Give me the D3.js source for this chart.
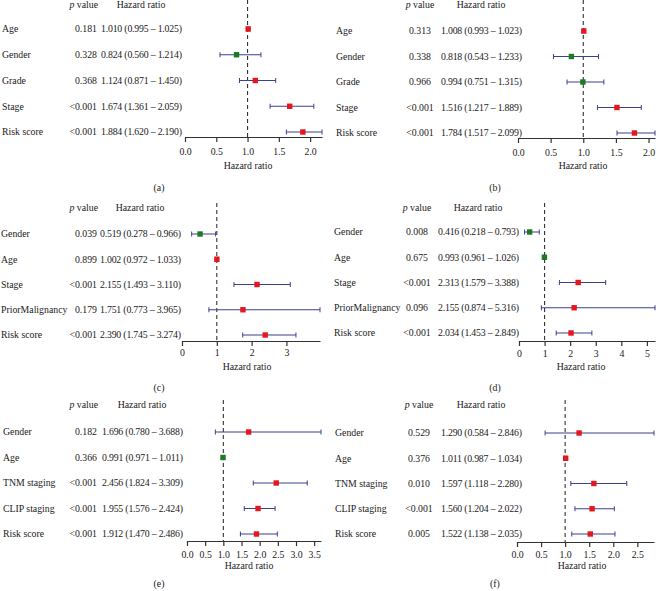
<!DOCTYPE html>
<html>
<head>
<meta charset="utf-8">
<script src="https://cdn.jsdelivr.net/npm/d3@7"></script>
<style>
  body { margin: 0; background: #fff; }
  svg text { font-family: "Liberation Serif", "DejaVu Serif", serif; font-size: 9.8px; fill: #1a1a1a; }
</style>
</head>
<body>
<svg width="656" height="591"></svg>
<script>
// Data for each panel
const labelsAB = ["Age", "Gender", "Grade", "Stage", "Risk score"];
const labelsCD = ["Gender", "Age", "Stage", "PriorMalignancy", "Risk score"];
const labelsEF = ["Gender", "Age", "TNM staging", "CLIP staging", "Risk score"];

const pA = ["0.181", "0.328", "0.368", "<0.001", "<0.001"];
const hrA = [1.010, 0.824, 1.124, 1.674, 1.884];
const loA = [0.995, 0.560, 0.871, 1.361, 1.620];
const hiA = [1.025, 1.214, 1.450, 2.059, 2.190];

const pB = ["0.313", "0.338", "0.966", "<0.001", "<0.001"];
const hrB = [1.008, 0.818, 0.994, 1.516, 1.784];
const loB = [0.993, 0.543, 0.751, 1.217, 1.517];
const hiB = [1.023, 1.233, 1.315, 1.889, 2.099];

const pC = ["0.039", "0.899", "<0.001", "0.179", "<0.001"];
const hrC = [0.519, 1.002, 2.155, 1.751, 2.390];
const loC = [0.278, 0.972, 1.493, 0.773, 1.745];
const hiC = [0.966, 1.033, 3.110, 3.965, 3.274];

const pD = ["0.008", "0.675", "<0.001", "0.096", "<0.001"];
const hrD = [0.416, 0.993, 2.313, 2.155, 2.034];
const loD = [0.218, 0.961, 1.579, 0.874, 1.453];
const hiD = [0.793, 1.026, 3.388, 5.316, 2.849];

const pE = ["0.182", "0.366", "<0.001", "<0.001", "<0.001"];
const hrE = [1.696, 0.991, 2.456, 1.955, 1.912];
const loE = [0.780, 0.971, 1.824, 1.576, 1.470];
const hiE = [3.688, 1.011, 3.309, 2.424, 2.486];

const pF = ["0.529", "0.376", "0.010", "<0.001", "0.005"];
const hrF = [1.290, 1.011, 1.597, 1.560, 1.522];
const loF = [0.584, 0.987, 1.118, 1.204, 1.138];
const hiF = [2.846, 1.034, 2.280, 2.022, 2.035];

const ticksA = [0, 0.5, 1, 1.5, 2];
const ticksC = [0, 1, 2, 3];
const ticksD = [0, 1, 2, 3, 4, 5];
const ticksE = [0, 0.5, 1, 1.5, 2, 2.5, 3, 3.5];
const ticksF = [0, 0.5, 1, 1.5, 2, 2.5];

const panelNames = ["(a)", "(b)", "(c)", "(d)", "(e)", "(f)"];

// Layout of each panel (pixels, relative to the panel origin)
const panels = [
  {ox: 0,   oy: 0,   labels: labelsAB, p: pA, hr: hrA, lo: loA, hi: hiA, ticks: ticksA, fmt: ".1f",
   labX: 2, pX: 97, pAnchor: "end", hrX: 101, head: 5, rows: [29, 132], axisY: 137, x0: 185, x1: 322,
   tickY: 15, titleY: 29, nameY: 51, titleX: 248, nameX: 159},
  {ox: 328, oy: 0,   labels: labelsAB, p: pB, hr: hrB, lo: loB, hi: hiB, ticks: ticksA, fmt: ".1f",
   labX: 8, pX: 92, pAnchor: "middle", hrX: 113, head: 5, rows: [31, 133], axisY: 138, x0: 190, x1: 327,
   tickY: 15, titleY: 28, nameY: 50, titleX: 255, nameX: 167},
  {ox: 0,   oy: 195, labels: labelsCD, p: pC, hr: hrC, lo: loC, hi: hiC, ticks: ticksC, fmt: "d",
   labX: 1, pX: 97, pAnchor: "end", hrX: 100, head: 13, rows: [39, 140], axisY: 146, x0: 182, x1: 320,
   tickY: 12, titleY: 26, nameY: 47, titleX: 247, nameX: 159},
  {ox: 328, oy: 195, labels: labelsCD, p: pD, hr: hrD, lo: loD, hi: hiD, ticks: ticksD, fmt: "d",
   labX: 6, pX: 89, pAnchor: "middle", hrX: 110, head: 13, rows: [37, 138], axisY: 146, x0: 191, x1: 327,
   tickY: 13, titleY: 26, nameY: 47, titleX: 253, nameX: 167},
  {ox: 0,   oy: 390, labels: labelsEF, p: pE, hr: hrE, lo: loE, hi: hiE, ticks: ticksE, fmt: ".1f",
   labX: 3, pX: 97, pAnchor: "end", hrX: 102, head: 15, rows: [42, 144], axisY: 151, x0: 187, x1: 321,
   tickY: 14, titleY: 25, nameY: 43, titleX: 249, nameX: 159},
  {ox: 328, oy: 390, labels: labelsEF, p: pF, hr: hrF, lo: loF, hi: hiF, ticks: ticksF, fmt: ".1f",
   labX: 7, pX: 91, pAnchor: "middle", hrX: 113, head: 15, rows: [43, 144], axisY: 152, x0: 189, x1: 326,
   tickY: 13, titleY: 24, nameY: 42, titleX: 254, nameX: 167}
];

const svg = d3.select("svg");
svg.append("rect").attr("width", 656).attr("height", 591).attr("fill", "#fff");

panels.forEach((d, i) => drawForest(d, panelNames[i]));

function drawForest(d, name) {
  const g = svg.append("g").attr("transform", `translate(${d.ox}, ${d.oy})`);
  const hrText = d.hr.map((v, k) => `${v.toFixed(3)} (${d.lo[k].toFixed(3)} – ${d.hi[k].toFixed(3)})`);

  const x = d3.scaleLinear().domain([0, d3.max(d.hi)]).range([d.x0, d.x1]);
  const y = d3.scalePoint().domain(d.labels).range(d.rows);

  // Column headers
  const head = g.append("text")
    .attr("y", d.head).attr("dy", "0.35em")
    .attr("x", d.pAnchor === "end" ? d.pX + 1 : d.pX)
    .attr("text-anchor", d.pAnchor);
  head.append("tspan").attr("font-style", "italic").text("p");
  head.append("tspan").text(" value");

  const hrMid = d.hrX + 40;
  g.append("text")
    .attr("x", hrMid).attr("y", d.head).attr("dy", "0.35em")
    .attr("text-anchor", "middle")
    .text("Hazard ratio");

  // Text columns
  const rows = g.selectAll(".row")
    .data(d.labels)
    .enter()
    .append("g")
    .attr("class", "row")
    .attr("transform", lab => `translate(0, ${y(lab)})`);

  rows.append("text")
    .attr("x", d.labX).attr("dy", "0.35em")
    .text(lab => lab);

  rows.append("text")
    .attr("x", d.pX).attr("dy", "0.35em")
    .attr("text-anchor", d.pAnchor)
    .text((lab, k) => d.p[k]);

  rows.append("text")
    .attr("x", d.hrX).attr("dy", "0.35em")
    .attr("textLength", 81)
    .text((lab, k) => hrText[k]);

  // Reference line at HR = 1
  g.append("line")
    .attr("x1", x(1)).attr("x2", x(1))
    .attr("y1", d.head - 5).attr("y2", d.axisY)
    .attr("stroke", "#333").attr("stroke-width", 1.1)
    .attr("stroke-dasharray", "4,3");

  // Confidence intervals
  const ci = g.selectAll(".ci")
    .data(d.labels)
    .enter()
    .append("g")
    .attr("class", "ci")
    .attr("transform", lab => `translate(0, ${y(lab)})`);

  ci.append("line")
    .attr("x1", (lab, k) => x(d.lo[k])).attr("x2", (lab, k) => x(d.hi[k]))
    .attr("stroke", "#3b3f8f").attr("stroke-width", 1);
  ci.append("line")
    .attr("x1", (lab, k) => x(d.lo[k])).attr("x2", (lab, k) => x(d.lo[k]))
    .attr("y1", -2.5).attr("y2", 2.5)
    .attr("stroke", "#3b3f8f").attr("stroke-width", 1);
  ci.append("line")
    .attr("x1", (lab, k) => x(d.hi[k])).attr("x2", (lab, k) => x(d.hi[k]))
    .attr("y1", -2.5).attr("y2", 2.5)
    .attr("stroke", "#3b3f8f").attr("stroke-width", 1);
  ci.append("rect")
    .attr("x", (lab, k) => x(d.hr[k]) - 2.7).attr("y", -2.7)
    .attr("width", 5.4).attr("height", 5.4)
    .attr("fill", (lab, k) => d.hr[k] > 1 ? "#e5161c" : "#1d7a23");

  // Axis
  const axis = g.append("g")
    .attr("transform", `translate(0, ${d.axisY})`)
    .call(d3.axisBottom(x).tickValues(d.ticks).tickFormat(d3.format(d.fmt)).tickSize(5).tickSizeOuter(0));
  axis.select(".domain").attr("stroke", "#333").attr("stroke-width", 1.2);
  axis.selectAll(".tick line").attr("stroke", "#333").attr("stroke-width", 1.2);
  axis.selectAll(".tick text")
    .attr("y", d.tickY).attr("dy", "0.35em")
    .style("font-family", "Liberation Serif, serif").style("font-size", "9.8px").attr("fill", "#1a1a1a");

  g.append("text")
    .attr("x", d.titleX).attr("y", d.axisY + d.titleY).attr("dy", "0.35em")
    .attr("text-anchor", "middle")
    .text("Hazard ratio");

  g.append("text")
    .attr("x", d.nameX).attr("y", d.axisY + d.nameY).attr("dy", "0.35em")
    .attr("text-anchor", "middle")
    .text(name);
}
</script>
</body>
</html>
